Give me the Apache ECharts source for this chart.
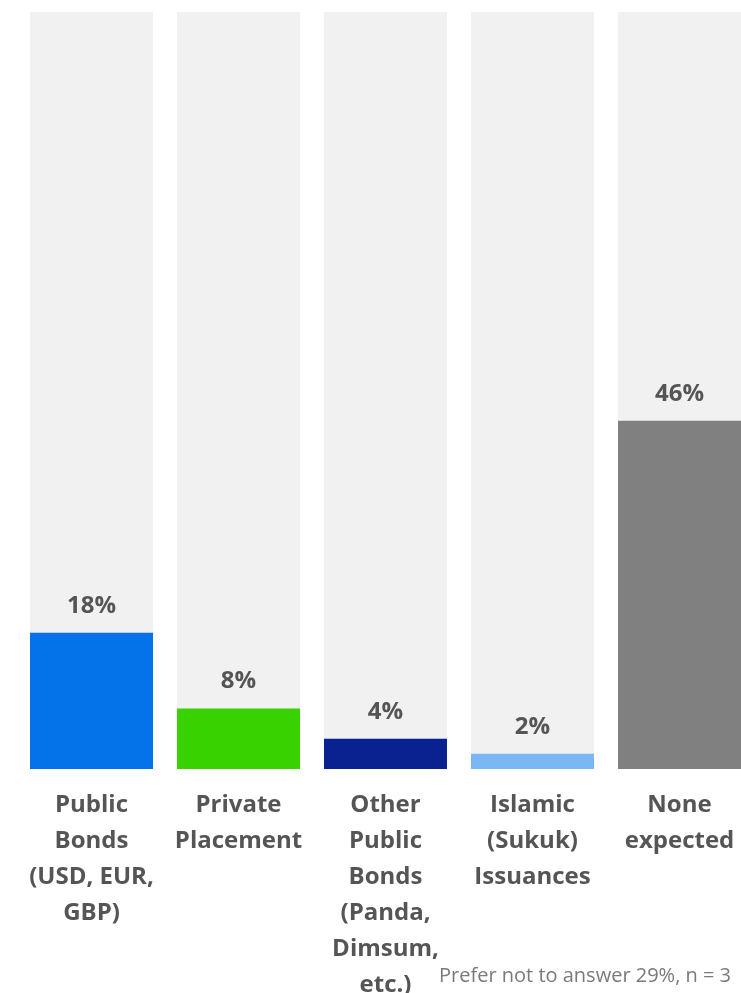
<!DOCTYPE html>
<html>
<head>
<meta charset="utf-8">
<script src="https://cdn.jsdelivr.net/npm/echarts@6/dist/echarts.min.js"></script>
<style>
  html, body { margin: 0; padding: 0; background: #ffffff; }
  #chart { width: 741px; height: 993px; }
</style>
</head>
<body>
<div id="chart"></div>
<script>
// Expected funding channels (share of respondents, %)
const categories = [
  'Public\nBonds\n(USD, EUR,\nGBP)',
  'Private\nPlacement',
  'Other\nPublic\nBonds\n(Panda,\nDimsum,\netc.)',
  'Islamic\n(Sukuk)\nIssuances',
  'None\nexpected'
];
const values = [18, 8, 4, 2, 46];
const barColors = ['#0473EA', '#38D200', '#0A2190', '#7AB8F5', '#808080'];
const footnote = 'Prefer not to answer 29%, n = 3';

const FONT = '"Open Sans", Lato, sans-serif';

const chart = echarts.init(document.getElementById('chart'), null, { renderer: 'canvas' });

chart.setOption({
  animation: false,
  grid: {
    left: 18, top: 12, width: 735, height: 757,
    containLabel: false,
    outerBoundsMode: 'none'
  },
  xAxis: {
    type: 'category',
    data: categories,
    axisLine: { show: false },
    axisTick: { show: false },
    axisLabel: {
      interval: 0,
      margin: 18,
      color: '#555555',
      fontFamily: FONT,
      fontWeight: 'bold',
      fontSize: 24,
      lineHeight: 36,
      align: 'center'
    }
  },
  yAxis: {
    type: 'value',
    min: 0,
    max: 100,
    show: false,
    splitLine: { show: false }
  },
  series: [{
    type: 'bar',
    barWidth: 123,
    data: values.map((v, i) => ({ value: v, itemStyle: { color: barColors[i] } })),
    showBackground: true,
    backgroundStyle: { color: '#F1F1F1' },
    label: {
      show: true,
      position: 'top',
      distance: 15,
      formatter: '{c}%',
      color: '#555555',
      fontFamily: FONT,
      fontWeight: 'bold',
      fontSize: 24
    }
  }],
  graphic: [{
    type: 'text',
    left: 439,
    top: 966,
    style: {
      text: footnote,
      fill: '#7a7a7a',
      fontFamily: FONT,
      fontSize: 20
    }
  }]
});
</script>
</body>
</html>
